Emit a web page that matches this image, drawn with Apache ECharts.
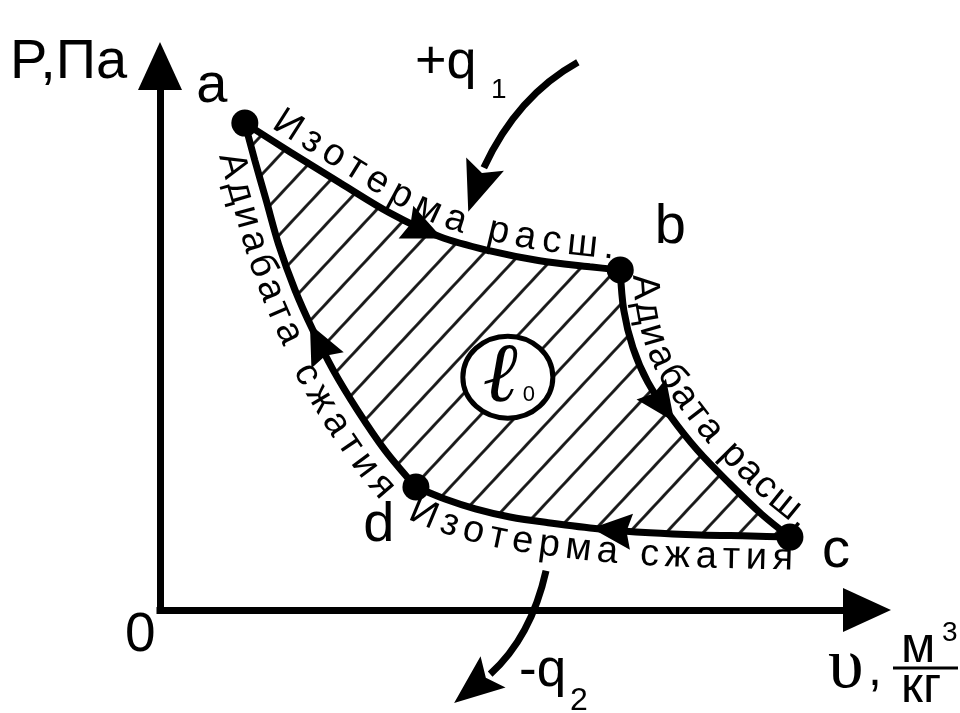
<!DOCTYPE html>
<html>
<head>
<meta charset="utf-8">
<script src="https://cdn.jsdelivr.net/npm/echarts@6/dist/echarts.min.js"></script>
<style>
    html, body { margin: 0; padding: 0; background: #fff; }
    #main { width: 960px; height: 713px; }
</style>
</head>
<body>
<div id="main"></div>
<script>
// кривые цикла в единицах (v, P)
var isoExp  = [[1.20, 8.95], [1.84, 8.42], [2.55, 7.85], [3.25, 7.30], [3.96, 6.86], [4.67, 6.60], [5.37, 6.42], [6.08, 6.31], [6.51, 6.25]];
var adiExp  = [[6.51, 6.25], [6.56, 5.51], [6.69, 4.82], [6.90, 4.19], [7.21, 3.58], [7.60, 2.94], [8.06, 2.32], [8.51, 1.76], [8.91, 1.34]];
var isoComp = [[3.62, 2.26], [4.03, 2.04], [4.46, 1.86], [4.95, 1.71], [5.52, 1.60], [6.22, 1.49], [6.93, 1.42], [7.64, 1.38], [8.35, 1.36], [8.91, 1.34]];
var adiComp = [[1.20, 8.95], [1.34, 8.27], [1.50, 7.54], [1.68, 6.71], [1.91, 5.88], [2.16, 5.15], [2.45, 4.41], [2.79, 3.68], [3.18, 2.94], [3.62, 2.26]];
var curves = [isoExp, adiExp, isoComp, adiComp];

// точки состояния
var states = [[1.20, 8.95, 'a'], [6.51, 6.25, 'b'], [8.91, 1.34, 'c'], [3.62, 2.26, 'd']];

// подписи вдоль кривых
var curveTexts = ['Изотерма расш.', 'Адиабата расш.', 'Изотерма сжатия', 'Адиабата', 'сжатия'];

// стрелки направления: [кривая, доля длины, направление]
var flowArrows = [[0, 0.51, 1], [1, 0.44, 1], [2, 0.53, -1], [3, 0.57, -1]];

// работа цикла, центр метки
var workAt = [4.92, 4.28];

// подвод / отвод теплоты: начало, контрольная точка, конец линии, острие
var heatIn  = [[5.91, 10.07], [5.05, 9.45], [4.58, 8.13], [4.36, 7.32]];
var heatOut = [[5.46, 0.72], [5.25, -0.50], [4.67, -1.18], [4.16, -1.71]];

// раскладка подписей (не данные)
var labelLayout = [
    { curve: 0, text: 0, from: 0.06, to: 0.98, dist: 21 },
    { curve: 1, text: 1, from: 0.02, to: 1.01, dist: 23 },
    { curve: 2, text: 2, from: 0.01, to: 1.01, dist: -22 },
    { curve: 3, text: 3, from: 0.06, to: 0.54, dist: -23 },
    { curve: 3, text: 4, from: 0.60, to: 0.97, dist: -25 }
];
var stateOffsets = [[-33, -37], [50, -42], [46, 14], [-37, 39]];

var FAMILY = '"Liberation Sans", Arial, sans-serif';

// сглаживание Catmull-Rom для раскладки
function densify(pts, steps) {
    var out = [];
    for (var i = 0; i < pts.length - 1; i++) {
        var p0 = pts[Math.max(i - 1, 0)], p1 = pts[i], p2 = pts[i + 1], p3 = pts[Math.min(i + 2, pts.length - 1)];
        for (var k = 0; k < steps; k++) {
            var t = k / steps, t2 = t * t, t3 = t2 * t;
            var q = [];
            for (var c = 0; c < 2; c++) {
                q.push(0.5 * (2 * p1[c] + (-p0[c] + p2[c]) * t +
                    (2 * p0[c] - 5 * p1[c] + 4 * p2[c] - p3[c]) * t2 +
                    (-p0[c] + 3 * p1[c] - 3 * p2[c] + p3[c]) * t3));
            }
            out.push(q);
        }
    }
    out.push(pts[pts.length - 1].slice());
    return out;
}

function measure(poly) {
    var acc = [0];
    for (var i = 1; i < poly.length; i++) {
        var dx = poly[i][0] - poly[i - 1][0], dy = poly[i][1] - poly[i - 1][1];
        acc.push(acc[i - 1] + Math.sqrt(dx * dx + dy * dy));
    }
    return acc;
}

function pointAt(poly, acc, s) {
    var j = 0;
    while (j < poly.length - 2 && acc[j + 1] < s) j++;
    var a = poly[j], b = poly[j + 1];
    var len = acc[j + 1] - acc[j] || 1;
    var t = (s - acc[j]) / len;
    var tx = (b[0] - a[0]) / len, ty = (b[1] - a[1]) / len;
    return { x: a[0] + (b[0] - a[0]) * t, y: a[1] + (b[1] - a[1]) * t, tx: tx, ty: ty };
}

function offsetLine(poly, d) {
    return poly.map(function (p, i) {
        var a = poly[Math.max(i - 1, 0)], b = poly[Math.min(i + 1, poly.length - 1)];
        var tx = b[0] - a[0], ty = b[1] - a[1];
        var l = Math.sqrt(tx * tx + ty * ty) || 1;
        tx /= l; ty /= l;
        return [p[0] + d * ty, p[1] - d * tx];
    });
}

var hatch = document.createElement('canvas');
hatch.width = 27; hatch.height = 27;
(function () {
    var ctx = hatch.getContext('2d');
    ctx.strokeStyle = '#111';
    ctx.lineWidth = 2.8;
    ctx.beginPath();
    ctx.moveTo(13.5, -2);
    ctx.lineTo(13.5, 29);
    ctx.stroke();
})();

var myChart = echarts.init(document.getElementById('main'));

function renderFill(params, api) {
    var ring = [].concat(
        densify(isoExp.map(api.coord), 10),
        densify(adiExp.map(api.coord), 10),
        densify(isoComp.map(api.coord), 10).reverse(),
        densify(adiComp.map(api.coord), 10).reverse()
    );
    return {
        type: 'polygon',
        shape: { points: ring },
        style: { fill: { image: hatch, repeat: 'repeat', rotation: 43 * Math.PI / 180 }, stroke: null }
    };
}

function renderArrow(params, api) {
    var ci = api.value(0), f = api.value(1), dir = api.value(2);
    var poly = densify(curves[ci].map(function (p) { return api.coord(p); }), 12);
    var acc = measure(poly);
    var p = pointAt(poly, acc, f * acc[acc.length - 1]);
    var tx = p.tx * dir, ty = p.ty * dir;
    var nx = -ty, ny = tx;
    var L = 20, W = 18, notch = 5;
    return {
        type: 'polygon',
        shape: {
            points: [
                [p.x + tx * L, p.y + ty * L],
                [p.x - tx * L + nx * W, p.y - ty * L + ny * W],
                [p.x - tx * (L - notch), p.y - ty * (L - notch)],
                [p.x - tx * L - nx * W, p.y - ty * L - ny * W]
            ]
        },
        style: { fill: '#000' }
    };
}

function curveSeries(data) {
    return {
        type: 'line',
        data: data,
        smooth: 0.33,
        symbol: 'none',
        lineStyle: { color: '#000', width: 7, cap: 'round' },
        z: 3,
        silent: true
    };
}

var axisCommon = {
    type: 'value',
    min: 0,
    max: 10,
    axisLine: {
        show: true,
        symbol: ['none', 'triangle'],
        symbolSize: [44, 48],
        lineStyle: { color: '#000', width: 7, cap: 'square' }
    },
    axisTick: { show: false },
    axisLabel: { show: false },
    splitLine: { show: false }
};

var option = {
    animation: false,
    grid: { left: 160, right: 93, top: 66, bottom: 103 },
    xAxis: axisCommon,
    yAxis: axisCommon,
    series: [
        {
            type: 'custom',
            renderItem: renderFill,
            data: [[0, 0]],
            z: 1,
            silent: true
        },
        curveSeries(isoExp),
        curveSeries(adiExp),
        curveSeries(isoComp),
        curveSeries(adiComp),
        {
            type: 'custom',
            renderItem: renderArrow,
            data: flowArrows,
            z: 4,
            silent: true
        },
        {
            type: 'scatter',
            symbolSize: 27,
            itemStyle: { color: '#000', opacity: 1 },
            z: 5,
            data: states.map(function (s, i) {
                return {
                    value: [s[0], s[1]],
                    name: s[2],
                    label: {
                        show: true,
                        position: 'inside',
                        offset: stateOffsets[i],
                        formatter: '{b}',
                        color: '#000',
                        fontSize: 56,
                        fontFamily: FAMILY
                    }
                };
            })
        }
    ]
};
myChart.setOption(option);

// ---- подписи и пометки поверх графика ----
var CURVE_FONT_SIZE = 38;
var measureCtx = document.createElement('canvas').getContext('2d');
measureCtx.font = CURVE_FONT_SIZE + 'px ' + FAMILY;

function toPx(p) {
    return myChart.convertToPixel({ gridIndex: 0 }, p);
}

function txt(text, x, y, size, opts) {
    opts = opts || {};
    var align = opts.align || 'left';
    return {
        type: 'text',
        x: x,
        y: y,
        rotation: opts.rotation || 0,
        z: 100,
        style: {
            text: text,
            x: 0,
            y: 0,
            fontSize: size,
            fontFamily: opts.family || FAMILY,
            fontWeight: opts.weight || 'normal',
            fontStyle: opts.italic ? 'italic' : 'normal',
            fill: '#000',
            align: align,
            verticalAlign: 'middle',
            textAlign: align,
            textVerticalAlign: 'middle'
        }
    };
}

var graphics = [];

labelLayout.forEach(function (lay) {
    var base = densify(curves[lay.curve].map(toPx), 12);
    var off = offsetLine(base, lay.dist);
    var acc = measure(off);
    var total = acc[acc.length - 1];
    var chars = curveTexts[lay.text].split('');
    var widths = chars.map(function (ch) { return measureCtx.measureText(ch).width; });
    var sum = widths.reduce(function (a, b) { return a + b; }, 0);
    var gap = ((lay.to - lay.from) * total - sum) / (chars.length - 1);
    var s = lay.from * total;
    chars.forEach(function (ch, i) {
        var p = pointAt(off, acc, s + widths[i] / 2);
        if (ch !== ' ') {
            graphics.push(txt(ch, p.x, p.y, CURVE_FONT_SIZE, { align: 'center', rotation: -Math.atan2(p.ty, p.tx) }));
        }
        s += widths[i] + gap;
    });
});

// стрелки теплоты
[heatIn, heatOut].forEach(function (arr) {
    var p = arr.map(toPx);
    graphics.push({
        type: 'bezierCurve',
        z: 100,
        shape: { x1: p[0][0], y1: p[0][1], cpx1: p[1][0], cpy1: p[1][1], x2: p[2][0], y2: p[2][1] },
        style: { stroke: '#000', lineWidth: 7, fill: null }
    });
    var dx = p[3][0] - p[2][0], dy = p[3][1] - p[2][1];
    var l = Math.sqrt(dx * dx + dy * dy);
    var nx = -dy / l, ny = dx / l, W = 20;
    graphics.push({
        type: 'polygon',
        z: 100,
        shape: {
            points: [
                p[3],
                [p[2][0] + nx * W - dx * 0.08, p[2][1] + ny * W - dy * 0.08],
                [p[2][0] + dx * 0.12, p[2][1] + dy * 0.12],
                [p[2][0] - nx * W - dx * 0.08, p[2][1] - ny * W - dy * 0.08]
            ]
        },
        style: { fill: '#000' }
    });
});

// метка работы цикла
var wc = toPx(workAt);
graphics.push({
    type: 'ellipse',
    z: 100,
    shape: { cx: wc[0], cy: wc[1], rx: 45, ry: 41 },
    style: { fill: '#fff', stroke: '#000', lineWidth: 5 }
});
graphics.push(txt('ℓ', wc[0] - 6, wc[1] + 2, 84, { align: 'center', weight: 'bold', italic: true, family: '"DejaVu Serif", serif' }));
graphics.push(txt('0', wc[0] + 15, wc[1] + 18, 22));

// оси и теплота
graphics.push(txt('P,Па', 10, 63, 56));
graphics.push(txt('0', 125, 636, 55));
graphics.push(txt('+q', 415, 63, 54));
graphics.push(txt('1', 491, 90, 28));
graphics.push(txt('-q', 519, 671, 53));
graphics.push(txt('2', 570, 701, 32));
graphics.push(txt('υ', 828, 668, 72, { family: '"Liberation Serif", serif' }));
graphics.push(txt(',', 868, 671, 50));
graphics.push(txt('м', 901, 648, 50));
graphics.push(txt('3', 942, 633, 28));
graphics.push({
    type: 'line',
    z: 100,
    shape: { x1: 893, y1: 668, x2: 958, y2: 668 },
    style: { stroke: '#000', lineWidth: 3 }
});
graphics.push(txt('кг', 901, 688, 50));

myChart.setOption({ graphic: graphics });
</script>
</body>
</html>
